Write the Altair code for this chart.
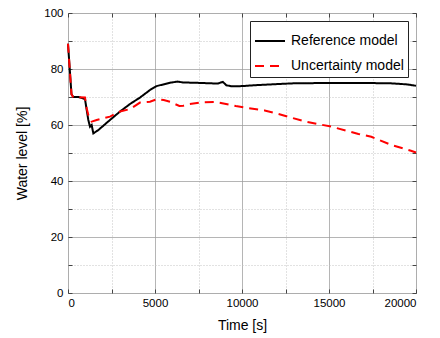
import altair as alt
import pandas as pd

ref_t = [0, 100, 200, 300, 600, 977, 1073, 1168, 1264, 1360, 1456, 1743, 2414, 2989, 3563,
         4138, 4713, 5095, 5862, 6300, 6600, 7203, 8161, 8600, 8900, 9100, 9400, 10000,
         11000, 12000, 13000, 15000, 17000, 18500, 19500, 20000]
ref_v = [89, 80, 71, 70, 70, 69.3, 65.4, 61.8, 59.4, 60, 57, 58.2, 61.8, 64.8, 67.5,
         69.8, 72.5, 73.9, 75.1, 75.5, 75.2, 75.1, 74.9, 74.8, 75.4, 74.2, 73.8, 73.9,
         74.3, 74.6, 74.9, 75, 75, 74.9, 74.5, 74.0]

unc_t = [0, 100, 200, 300, 977, 1073, 1168, 1360, 1648, 2414, 2989, 3563, 4138, 4713,
         5095, 5500, 5862, 6400, 6630, 7000, 7740, 8500, 8860, 9640, 10400, 11300, 12300,
         13640, 15150, 16690, 17430, 18570, 19710, 20000]
unc_v = [89, 80, 71, 70, 69.8, 66, 63.6, 61.2, 61.8, 63.0, 64.8, 65.7, 68, 68.3,
         69.2, 68.9, 68.3, 66.8, 66.9, 67.5, 68.1, 68.2, 67.8, 66.8, 66.0, 65.2, 63.6,
         61.2, 59.4, 56.8, 55.8, 52.9, 50.8, 50.2]

series = ["Reference model", "Uncertainty model"]
x_ticks = [0, 2500, 5000, 7500, 10000, 12500, 15000, 17500, 20000]
y_ticks = [0, 10, 20, 30, 40, 50, 60, 70, 80, 90, 100]

df = pd.concat([
    pd.DataFrame({"t": ref_t, "v": ref_v, "series": series[0], "k": 0}),
    pd.DataFrame({"t": unc_t, "v": unc_v, "series": series[1], "k": 1}),
])

FONT = "Liberation Sans"
xs = alt.Scale(domain=[0, 20000], nice=False, zero=False)
ys = alt.Scale(domain=[0, 100], nice=False, zero=False)

grid_dash_x = {"condition": {"test": "datum.value % 5000 === 0", "value": [1, 0]}, "value": [1, 2]}
grid_col_x = {"condition": {"test": "datum.value % 5000 === 0", "value": "#9c9c9c"}, "value": "#c4c4c4"}
grid_dash_y = {"condition": {"test": "datum.value % 20 === 0", "value": [1, 0]}, "value": [1, 2]}
grid_col_y = {"condition": {"test": "datum.value % 20 === 0", "value": "#9c9c9c"}, "value": "#c4c4c4"}

txt = dict(labelFont=FONT, labelFontSize=11.5, labelColor="black",
           titleFont=FONT, titleFontSize=14, titleFontWeight="normal", titleColor="black")

leg = alt.Legend(
    title=None, orient="none", legendX=182, legendY=8,
    strokeColor="#222222", fillColor="white", padding=4,
    symbolType="stroke", symbolSize=900, symbolStrokeWidth=2,
    labelFontSize=14, labelFont=FONT, labelColor="black", labelOffset=5,
    rowPadding=2,
)

main = alt.Chart(df).mark_line(strokeWidth=2).encode(
    x=alt.X("t:Q", scale=xs, title="Time [s]",
            axis=alt.Axis(orient="bottom", values=x_ticks, ticks=False, domain=False,
                          grid=True, gridDash=grid_dash_x, gridColor=grid_col_x, gridWidth=1,
                          labelExpr="datum.value % 5000 === 0 ? format(datum.value, 'd') : ''",
                          labelPadding=4, titleX=174, titleY=32, titleBaseline="middle", **txt)),
    y=alt.Y("v:Q", scale=ys, title="Water level [%]",
            axis=alt.Axis(orient="left", values=y_ticks, ticks=False, domain=False,
                          grid=True, gridDash=grid_dash_y, gridColor=grid_col_y, gridWidth=1,
                          labelExpr="datum.value % 20 === 0 ? datum.label : ''",
                          labelPadding=5, titleX=-46, titleY=140, titleAngle=-90,
                          titleBaseline="middle", titleAlign="center", **txt)),
    color=alt.Color("series:N", scale=alt.Scale(domain=series, range=["black", "#ff0000"]), legend=leg),
    strokeDash=alt.StrokeDash("series:N", scale=alt.Scale(domain=series, range=[[1, 0], [9, 6]]), legend=leg),
    order="k:Q",
)

def tick_layer(xo, yo):
    return alt.Chart(df).mark_line(opacity=0).encode(
        x=alt.X("t:Q", scale=xs, title=None,
                axis=alt.Axis(orient=xo, values=x_ticks, labels=False, domain=False, grid=False,
                              ticks=True, tickSize=4, tickColor="#444444", tickWidth=1, offset=-4)),
        y=alt.Y("v:Q", scale=ys, title=None,
                axis=alt.Axis(orient=yo, values=y_ticks, labels=False, domain=False, grid=False,
                              ticks=True, tickSize=4, tickColor="#444444", tickWidth=1, offset=-4)),
        detail="series:N",
    )

chart = alt.layer(main, tick_layer("bottom", "left"), tick_layer("top", "right")).resolve_axis(
    x="independent", y="independent"
).properties(
    width=348, height=280, autosize="none",
    padding={"left": 68, "top": 13, "right": 24, "bottom": 45},
).configure_view(
    stroke="#4a4a4a", strokeWidth=1.5
).configure(background="white")

chart.save("out.html", embed_options={"renderer": "svg", "actions": False})
